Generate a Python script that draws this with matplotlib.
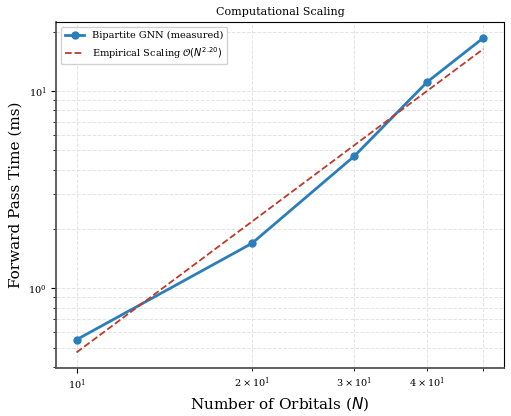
import numpy as np
import matplotlib
matplotlib.use("Agg")
import matplotlib.pyplot as plt

# данные
n_orbitals = [10, 20, 30, 40, 50]
time_ms = [0.55, 1.69, 4.68, 11.1, 18.6]
fit_exponent = 2.20
fit_at_10 = 0.474

plt.rcParams["font.family"] = "DejaVu Serif"
plt.rcParams["mathtext.fontset"] = "dejavusans"

fig, ax = plt.subplots(figsize=(5.11, 4.16), dpi=100)
fig.subplots_adjust(left=0.110, right=0.986, top=0.947, bottom=0.115)

x = np.array(n_orbitals, dtype=float)
ax.plot(x, time_ms, "o-", color="#2a7fba", lw=2, ms=5,
        label="Bipartite GNN (measured)")
fit = fit_at_10 * (x / 10.0) ** fit_exponent
ax.plot(x, fit, "--", color="#c0392b", lw=1.3,
        label=r"Empirical Scaling $\mathcal{O}(N^{%.2f})$" % fit_exponent)

ax.set_xscale("log")
ax.set_yscale("log")
ax.set_xlabel(r"Number of Orbitals ($N$)", fontsize=11, labelpad=2)
ax.set_ylabel("Forward Pass Time (ms)", fontsize=11)
ax.set_title("Computational Scaling", fontsize=8, pad=5)
ax.tick_params(which="both", labelsize=7)
for s in ("left", "bottom"):
    ax.spines[s].set_color("#555555")
    ax.spines[s].set_linewidth(1.3)
ax.grid(True, which="both", ls="--", color="#dddddd", lw=0.7, alpha=0.8)
ax.legend(loc="upper left", fontsize=7, framealpha=0.9)

fig.savefig("out.png", dpi=100)
